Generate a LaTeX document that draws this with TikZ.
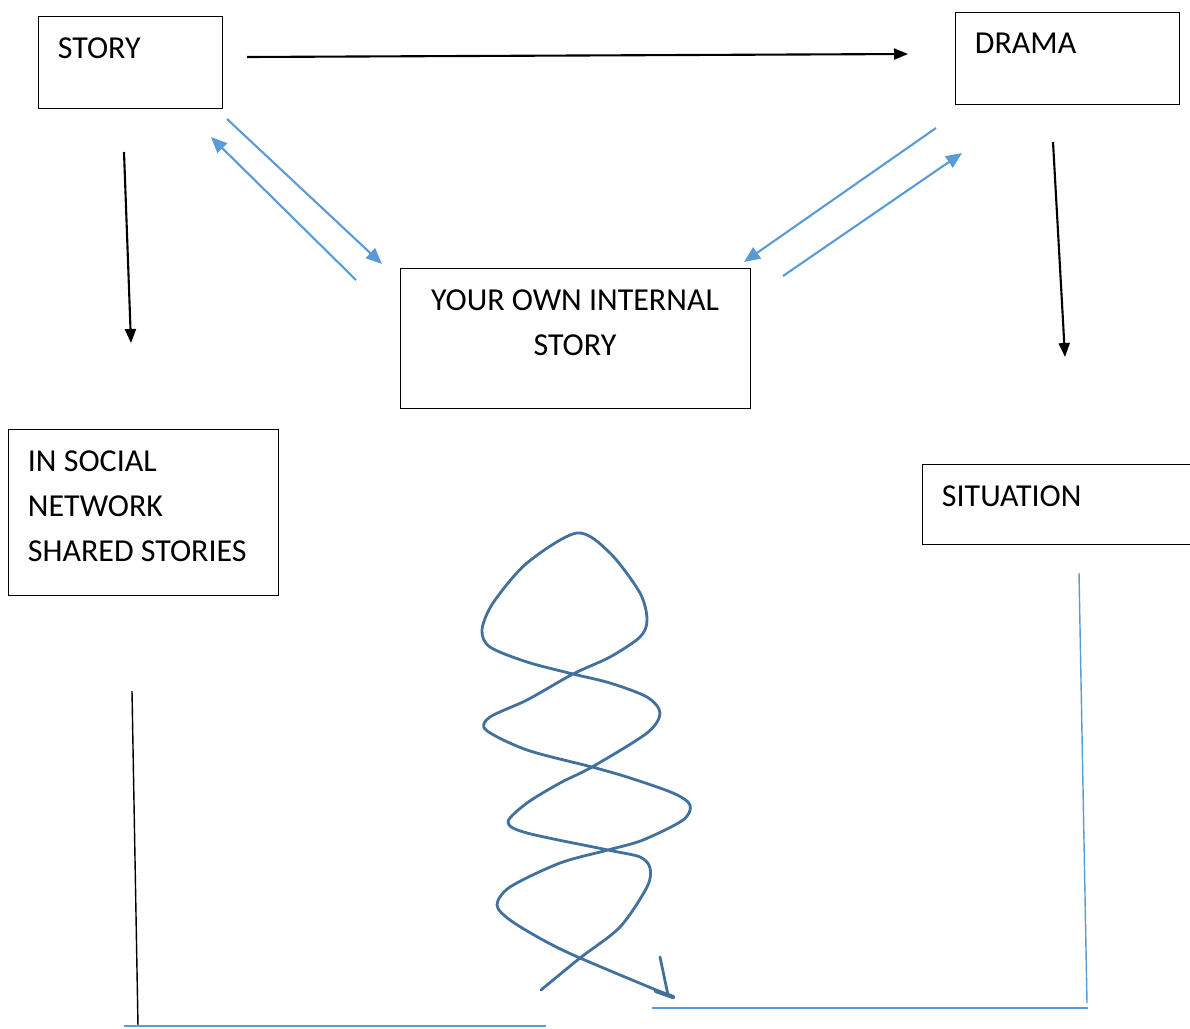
\documentclass[tikz,border=0pt]{standalone}
\usepackage{fontspec}
\setmainfont{Carlito}
\usetikzlibrary{arrows.meta}
\definecolor{lineblue}{HTML}{5B9BD5}
\definecolor{darkblue}{HTML}{41719C}

\begin{document}
\begin{tikzpicture}[x=0.02cm,y=-0.02cm,
  box/.style={draw, line width=0.5pt, inner sep=0pt},
  txt/.style={inner sep=0pt, font=\fontsize{18.2}{25.6}\selectfont},
  tl/.style={txt, anchor=north west, align=left, xshift=0.4cm, yshift=-0.43cm},
  tc/.style={txt, anchor=north, align=center, yshift=-0.44cm},
  blk/.style={line width=1.2pt, -{Triangle[length=0.28cm,width=0.22cm]}},
  blu/.style={lineblue, line width=1.2pt, -{Triangle[length=0.32cm,width=0.27cm]}},
  spiral/.style={darkblue, line width=1.6pt, line cap=round, line join=round}]
 \useasboundingbox (0,0) rectangle (1190,1028);

 % boxes
 \node[box, minimum width=3.68cm, minimum height=1.84cm, label={[tl]north west:STORY}] (story) at (130,62) {};
 \node[box, minimum width=4.48cm, minimum height=1.84cm, label={[tl]north west:DRAMA}] (drama) at (1067,58) {};
 \node[box, minimum width=7cm, minimum height=2.8cm, label={[tc]north:{YOUR OWN INTERNAL\\STORY}}] (inner) at (575,338) {};
 \node[box, minimum width=5.4cm, minimum height=3.32cm, label={[tl]north west:{IN SOCIAL\\NETWORK\\SHARED STORIES}}] (social) at (143,512) {};
 \node[box, minimum width=5.6cm, minimum height=1.6cm, label={[tl]north west:SITUATION}] (situation) at (1062,504) {};

 % arrow ends
 \coordinate (sd1) at (247,57);   \coordinate (sd2) at (908,54);
 \coordinate (ss1) at (124,152);  \coordinate (ss2) at (131,343);
 \coordinate (dt1) at (1053,142); \coordinate (dt2) at (1065,357);
 \coordinate (si1) at (227,119);  \coordinate (si2) at (382,264);
 \coordinate (is1) at (356,280);  \coordinate (is2) at (211,137);
 \coordinate (di1) at (936,128);  \coordinate (di2) at (744,262);
 \coordinate (id1) at (783,276);  \coordinate (id2) at (962,153);

 \draw[blk] (sd1) -- (sd2);
 \draw[blk] (ss1) -- (ss2);
 \draw[blk] (dt1) -- (dt2);
 \draw[blu] (si1) -- (si2);
 \draw[blu] (is1) -- (is2);
 \draw[blu] (di1) -- (di2);
 \draw[blu] (id1) -- (id2);

 % axes under the spiral
 \coordinate (lt) at (132,691);  \coordinate (lb) at (138,1026);
 \coordinate (bl1) at (124,1026); \coordinate (bl2) at (546,1026);
 \coordinate (rt) at (1079,573); \coordinate (rb) at (1087,1003);
 \coordinate (br1) at (652,1008); \coordinate (br2) at (1088,1008);
 \draw[line width=0.8pt] (lt) -- (lb);
 \draw[lineblue, line width=1.1pt] (bl1) -- (bl2);
 \draw[lineblue, line width=0.8pt] (rt) -- (rb);
 \draw[lineblue, line width=1.1pt] (br1) -- (br2);

 % spiral
 \draw[spiral] plot[smooth, tension=0.5] coordinates {(541,990) (580,958) (620,927) (647,887) (650,868) (640,857)
   (608,850) (527,833) (508,822) (527,803) (560,783) (592,767) (647,733) (660,713) (647,697) (610,683)
   (573,674) (527,662) (490,647) (482,630) (493,603) (527,563) (577,533) (610,553) (640,593) (647,620)
   (640,637) (610,657) (573,674) (527,700) (490,717) (486,730) (527,750) (592,767) (627,777) (673,793)
   (690,805) (683,820) (643,840) (608,850) (560,863) (510,887) (497,905) (510,920) (543,940) (580,958) (673,997)};
 \draw[spiral] (660,957) -- (668,995);
 \draw[spiral, line width=2.4pt] (656,991) -- (673,997);
\end{tikzpicture}
\end{document}
